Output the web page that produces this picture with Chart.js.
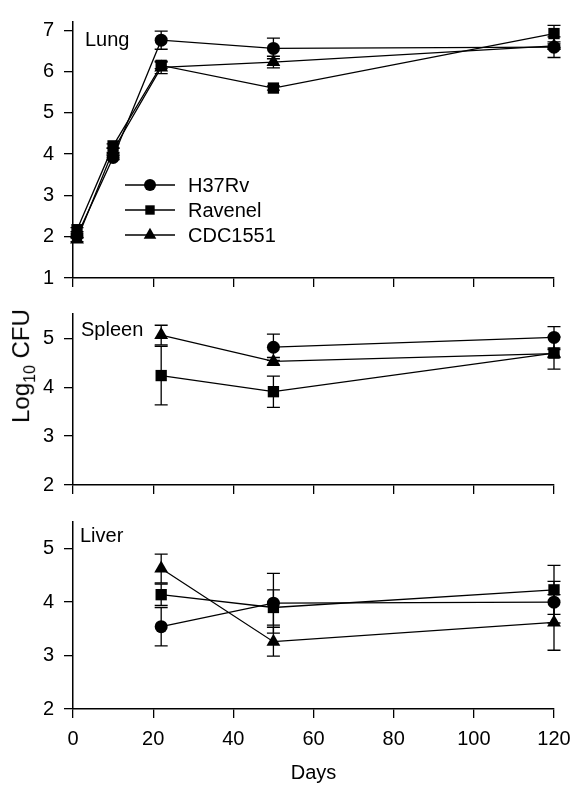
<!DOCTYPE html>
<html>
<head>
<meta charset="utf-8">
<script src="https://cdn.jsdelivr.net/npm/chart.js@4.4.0/dist/chart.umd.min.js"></script>
<style>
  body { margin: 0; background: #fff; width: 573px; height: 786px; position: relative; overflow: hidden;
         font-family: "Liberation Sans", Arial, sans-serif; }
  .panel { position: absolute; left: 0; width: 573px; }
  #ytitle { position: absolute; left: 23px; top: 366px; transform: translate(-50%, -50%) rotate(-90deg);
            font-size: 24px; white-space: nowrap; color: #000; }
  #ytitle sub { font-size: 16px; }
</style>
</head>
<body>
<div class="panel" style="top:0;height:300px"><canvas id="lung"></canvas></div>
<div class="panel" style="top:292px;height:215px"><canvas id="spleen"></canvas></div>
<div class="panel" style="top:500px;height:286px"><canvas id="liver"></canvas></div>
<div id="ytitle">Log<sub>10</sub> CFU</div>
<script>
const strains = ['H37Rv', 'Ravenel', 'CDC1551'];
const markers = ['circle', 'rect', 'triangle'];
const markerSize = [6.5, 8, 8];

// lung
const lungDays = [1, 10, 22, 50, 120];
const lungH37Rv = [2.02, 3.92, 6.76, 6.56, 6.59];
const lungH37RvErr = [0.05, 0.05, 0.22, 0.25, 0.25];
const lungRavenel = [2.17, 4.2, 6.15, 5.6, 6.92];
const lungRavenelErr = [0.05, 0.05, 0.08, 0.05, 0.2];
const lungCDC1551 = [1.93, 4.09, 6.1, 6.23, 6.62];
const lungCDC1551Err = [0.05, 0.05, 0.15, 0.14, 0.05];

// spleen
const spleenDays = [22, 50, 120];
const spleenH37Rv = [null, 4.82, 5.02];
const spleenH37RvErr = [0, 0.27, 0.22];
const spleenRavenel = [4.24, 3.91, 4.7];
const spleenRavenelErr = [0.6, 0.32, 0.33];
const spleenCDC1551 = [5.07, 4.53, 4.69];
const spleenCDC1551Err = [0.2, 0.08, 0.08];

// liver
const liverDays = [22, 50, 120];
const liverH37Rv = [3.54, 3.98, 4.0];
const liverH37RvErr = [0.36, 0.56, 0.39];
const liverRavenel = [4.14, 3.9, 4.23];
const liverRavenelErr = [0.2, 0.33, 0.46];
const liverCDC1551 = [4.63, 3.26, 3.62];
const liverCDC1551Err = [0.27, 0.27, 0.52];

const xTicks = [0, 20, 40, 60, 80, 100, 120];

function buildSets(days, series, errs) {
  return series.map((vals, i) => ({
    label: strains[i],
    data: days.map((d, k) => ({ x: d, y: vals[k], e: errs[i][k] })).filter(p => p.y != null),
    borderColor: '#000',
    backgroundColor: '#000',
    borderWidth: 1.3,
    pointStyle: markers[i],
    pointRadius: markerSize[i],
    pointHoverRadius: markerSize[i],
    pointBorderWidth: 0,
    tension: 0,
    clip: false
  }));
}

const errorBars = {
  id: 'errorBars',
  beforeDatasetsDraw(chart) {
    const { ctx, scales: { x, y } } = chart;
    ctx.save();
    ctx.strokeStyle = '#000';
    ctx.lineWidth = 1.3;
    chart.data.datasets.forEach(ds => {
      ds.data.forEach(p => {
        if (!p.e) return;
        const px = x.getPixelForValue(p.x);
        const top = y.getPixelForValue(p.y + p.e);
        const bot = y.getPixelForValue(p.y - p.e);
        ctx.beginPath();
        ctx.moveTo(px, top); ctx.lineTo(px, bot);
        ctx.moveTo(px - 6.5, top); ctx.lineTo(px + 6.5, top);
        ctx.moveTo(px - 6.5, bot); ctx.lineTo(px + 6.5, bot);
        ctx.stroke();
      });
    });
    ctx.restore();
  }
};

function drawMarker(ctx, style, r, x, y) {
  ctx.beginPath();
  if (style === 'circle') {
    ctx.arc(x, y, r, 0, Math.PI * 2);
  } else if (style === 'rect') {
    ctx.rect(x - r, y - r, 2 * r, 2 * r);
  } else {
    ctx.moveTo(x, y - r);
    ctx.lineTo(x + r * 0.866, y + r * 0.5);
    ctx.lineTo(x - r * 0.866, y + r * 0.5);
    ctx.closePath();
  }
  ctx.fill();
}

const panelText = {
  id: 'panelText',
  afterDraw(chart, args, opts) {
    const ctx = chart.ctx;
    ctx.save();
    ctx.fillStyle = '#000';
    ctx.font = '20px "Liberation Sans", Arial, sans-serif';
    ctx.textBaseline = 'middle';
    ctx.fillText(opts.text, chart.chartArea.left + opts.dx, opts.y);
    if (opts.legend) {
      const rows = [185, 210, 235];
      const sizes = [6, 4.7, 7.3];
      rows.forEach((ry, i) => {
        ctx.strokeStyle = '#000';
        ctx.lineWidth = 1.3;
        ctx.beginPath();
        ctx.moveTo(125, ry); ctx.lineTo(175, ry);
        ctx.stroke();
        drawMarker(ctx, markers[i], sizes[i], 150, ry);
        ctx.fillText(strains[i], 188, ry + 1);
      });
    }
    ctx.restore();
  }
};

function makePanel(id, days, series, errs, cfg) {
  new Chart(document.getElementById(id), {
    type: 'line',
    data: { datasets: buildSets(days, series, errs) },
    plugins: [errorBars, panelText],
    options: {
      responsive: true,
      maintainAspectRatio: false,
      animation: false,
      events: [],
      layout: { padding: { top: cfg.padTop, right: 19, left: 0, bottom: 0 } },
      plugins: {
        legend: { display: false },
        tooltip: { enabled: false },
        panelText: { text: cfg.text, dx: cfg.dx, y: cfg.textY, legend: cfg.legend }
      },
      scales: {
        x: {
          type: 'linear',
          min: 0, max: 120,
          afterBuildTicks: s => { s.ticks = xTicks.map(v => ({ value: v })); },
          afterFit: s => { s.height = cfg.xHeight; s.paddingLeft = 0; s.paddingRight = 0; },
          ticks: {
            display: cfg.xLabels, padding: 9, color: '#000',
            font: { family: '"Liberation Sans", Arial, sans-serif', size: 20 }
          },
          grid: { drawOnChartArea: false, drawTicks: true, tickLength: 9, color: '#000', lineWidth: 1.3 },
          border: { display: true, color: '#000', width: 1.5 },
          title: {
            display: cfg.xLabels, text: 'Days', color: '#000', padding: { top: 0, bottom: 1 },
            font: { family: '"Liberation Sans", Arial, sans-serif', size: 20 }
          }
        },
        y: {
          min: cfg.yMin, max: cfg.yMax,
          afterBuildTicks: s => { s.ticks = cfg.yTicks.map(v => ({ value: v })); },
          afterFit: s => { s.width = 73; },
          ticks: {
            padding: 10, color: '#000',
            font: { family: '"Liberation Sans", Arial, sans-serif', size: 20 }
          },
          grid: { drawOnChartArea: false, drawTicks: true, tickLength: 9, color: '#000', lineWidth: 1.3 },
          border: { display: true, color: '#000', width: 1.5 }
        }
      }
    }
  });
}

makePanel('lung', lungDays,
  [lungH37Rv, lungRavenel, lungCDC1551], [lungH37RvErr, lungRavenelErr, lungCDC1551Err],
  { padTop: 12, xHeight: 9, xLabels: false, yMin: 1, yMax: 7.2, yTicks: [1, 2, 3, 4, 5, 6, 7],
    text: 'Lung', dx: 12, textY: 40, legend: true });

makePanel('spleen', spleenDays,
  [spleenH37Rv, spleenRavenel, spleenCDC1551], [spleenH37RvErr, spleenRavenelErr, spleenCDC1551Err],
  { padTop: 13, xHeight: 9, xLabels: false, yMin: 2, yMax: 5.5, yTicks: [2, 3, 4, 5],
    text: 'Spleen', dx: 8, textY: 38, legend: false });

makePanel('liver', liverDays,
  [liverH37Rv, liverRavenel, liverCDC1551], [liverH37RvErr, liverRavenelErr, liverCDC1551Err],
  { padTop: 13, xHeight: 77, xLabels: true, yMin: 2, yMax: 5.5, yTicks: [2, 3, 4, 5],
    text: 'Liver', dx: 7, textY: 36, legend: false });
</script>
</body>
</html>
